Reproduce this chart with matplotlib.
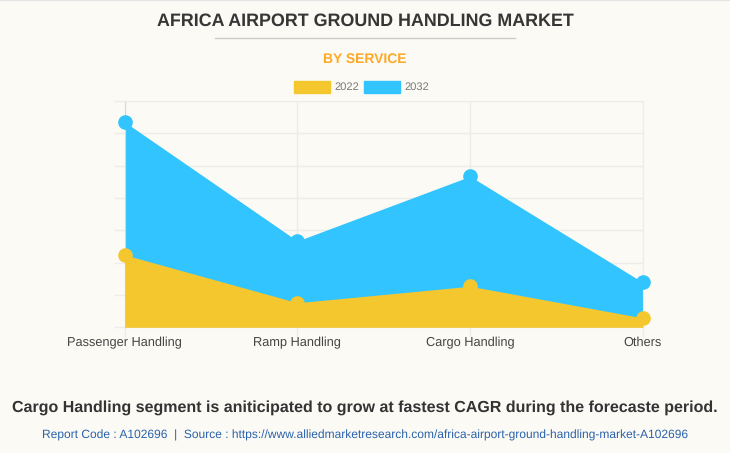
import matplotlib
matplotlib.use("Agg")
import matplotlib.pyplot as plt

plt.rcParams["font.family"] = ["Liberation Sans", "DejaVu Sans"]
plt.rcParams["text.hinting"] = "no_hinting"

services = ["Passenger Handling", "Ramp Handling", "Cargo Handling", "Others"]
years = ["2022", "2032"]
values_2022 = [2.24, 0.76, 1.27, 0.29]
values_2032 = [6.35, 2.67, 4.67, 1.39]
y_ticks = [0, 1, 2, 3, 4, 5, 6, 7]

W, H = 730, 453
BG = "#fbfaf5"
YELLOW = "#f5c72e"
BLUE = "#31c4ff"
GRID = "#eeecea"

fig = plt.figure(figsize=(W / 100, H / 100), dpi=100, facecolor=BG)
ax = fig.add_axes([124.7 / W, 1 - 327.3 / H, (642.8 - 124.7) / W, (327.3 - 101) / H])
ax.set_facecolor(BG)
xs = range(len(services))

ax.fill_between(xs, values_2032, color=BLUE, lw=0, zorder=2)
ax.fill_between(xs, values_2022, color=YELLOW, lw=0, zorder=3)
ax.plot(xs, values_2032, "o", ms=9.5, color=BLUE, clip_on=False, zorder=4)
ax.plot(xs, values_2022, "o", ms=9.5, color=YELLOW, clip_on=False, zorder=5)

ax.set_xlim(0, 3)
ax.set_ylim(0, 7)
ax.set_xticks(list(xs))
ax.set_xticklabels(services, fontsize=9.15, color="#444444", va="baseline")
ax.set_yticks(y_ticks)
ax.set_yticklabels([])
ax.grid(True, color=GRID, lw=1, zorder=1)
ax.set_axisbelow(True)
ax.tick_params(axis="x", length=7, width=1, color=GRID, pad=6.6)
ax.tick_params(axis="y", length=8, width=1, color=GRID)
for side in ["top", "right"]:
    ax.spines[side].set_color(GRID)
ax.spines["bottom"].set_color("#e4e2de")
ax.spines["left"].set_color("#d8d8d2")

# titles, in figure pixels
def put(x, y, s, **kw):
    fig.text(x / W, 1 - y / H, s, ha="center", va="center", **kw)

put(365, 21, "AFRICA AIRPORT GROUND HANDLING MARKET", fontsize=12.85, fontweight="bold",
    color="#363636")
fig.add_artist(plt.Line2D([215 / W, 515 / W], [1 - 37.5 / H] * 2, color="#cfcdc8", lw=1))
put(365, 59, "BY SERVICE", fontsize=10, fontweight="bold", color="#ffa925")
put(365, 407.5, "Cargo Handling segment is aniticipated to grow at fastest CAGR during the forecaste period.",
    fontsize=11.55, fontweight="bold", color="#333333")
put(365, 435, "Report Code : A102696  |  Source : https://www.alliedmarketresearch.com/africa-airport-ground-handling-market-A102696",
    fontsize=8.65, color="#2a62ab")

# legend
for x0, label, col in [(294, years[0], YELLOW), (364, years[1], BLUE)]:
    fig.patches.append(plt.Rectangle((x0 / W, 1 - 93 / H), 36 / W, 12 / H, color=col,
                                     transform=fig.transFigure))
    fig.text((x0 + 40) / W, 1 - 87 / H, label, fontsize=8, color="#7a7a7a",
             ha="left", va="center")

# thin line along the top edge of the card
fig.add_artist(plt.Line2D([0, 1], [0.999, 0.999], color="#e4e4e4", lw=1))

fig.savefig("out.png", dpi=100, facecolor=BG)
